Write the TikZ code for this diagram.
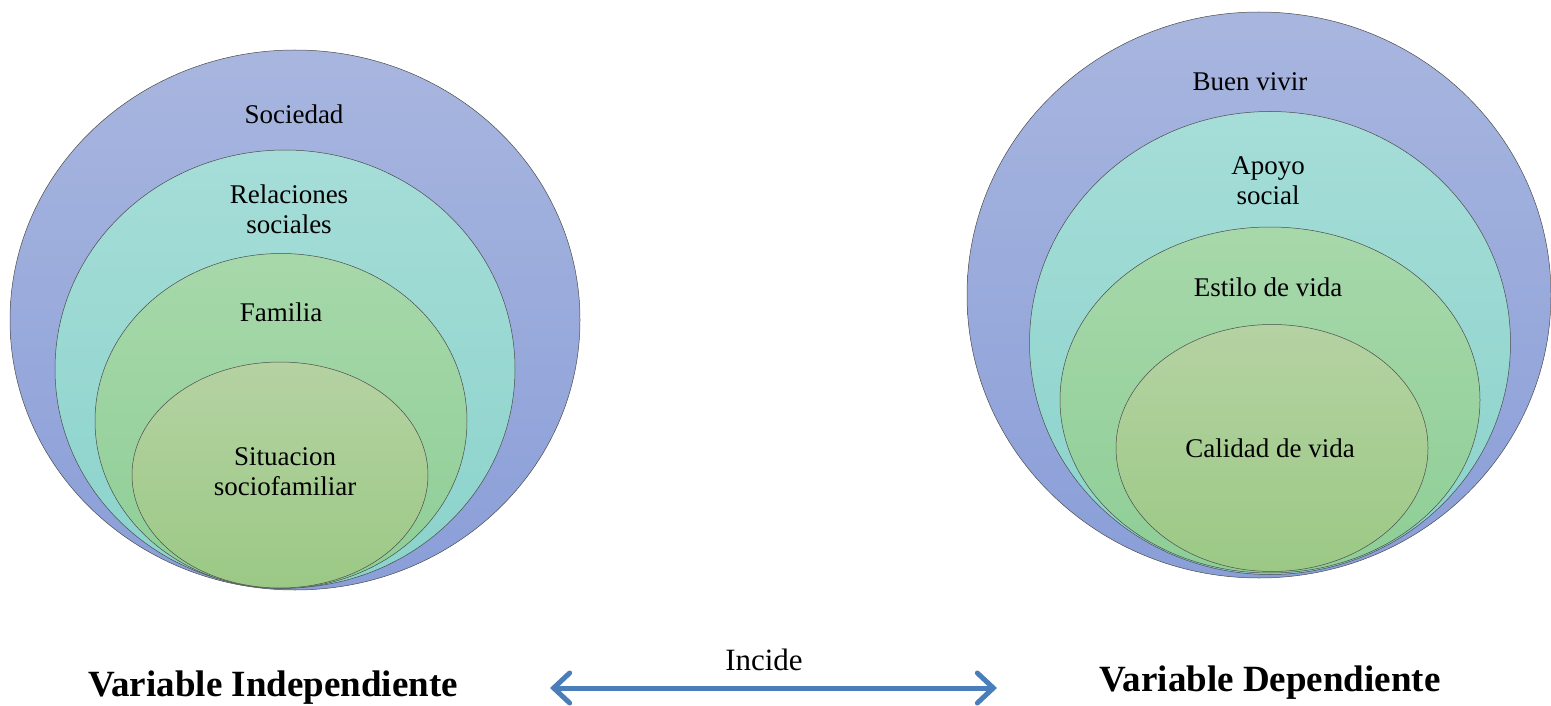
\documentclass[tikz,border=0pt]{standalone}
\usepackage{fontspec}
\setmainfont{Liberation Serif}
\usetikzlibrary{shapes.geometric,arrows.meta}
\definecolor{ringblueT}{HTML}{A8B6DF}
\definecolor{ringblueB}{HTML}{8A9ED8}
\definecolor{ringcyanT}{HTML}{A6DDD8}
\definecolor{ringcyanB}{HTML}{8AD3CB}
\definecolor{ringgreenT}{HTML}{A7D8AA}
\definecolor{ringgreenB}{HTML}{8ECE96}
\definecolor{ringlimeT}{HTML}{B5D2A2}
\definecolor{ringlimeB}{HTML}{9BC985}
\definecolor{arrowblue}{HTML}{4A7EBB}
\tikzset{
  ring/.style={ellipse,draw=black!70,line width=0.5pt,inner sep=0pt},
  blue ring/.style={ring,top color=ringblueT,bottom color=ringblueB},
  cyan ring/.style={ring,top color=ringcyanT,bottom color=ringcyanB},
  green ring/.style={ring,top color=ringgreenT,bottom color=ringgreenB},
  lime ring/.style={ring,top color=ringlimeT,bottom color=ringlimeB},
  ringtext/.style={align=center,font=\fontsize{27}{30}\selectfont,inner sep=0pt},
  vartext/.style={font=\fontsize{37}{40}\selectfont\bfseries,inner sep=0pt},
}
\begin{document}
\begin{tikzpicture}[x=1pt,y=-1pt]
  \useasboundingbox (0,0) rectangle (1551,706);

  % Variable independiente
  \node[blue ring,minimum width=570,minimum height=540] (soc) at (295,320) {};
  \node[cyan ring,minimum width=460,minimum height=438] (rel) at (285,369) {};
  \node[green ring,minimum width=372,minimum height=335] (fam) at (281,421) {};
  \node[lime ring,minimum width=296,minimum height=226] (sit) at (280,475) {};

  \node[ringtext] (socT) at (294,114) {Sociedad};
  \node[ringtext] (relT) at (289,209) {Relaciones\\sociales};
  \node[ringtext] (famT) at (281,312) {Familia};
  \node[ringtext] (sitT) at (285,472) {Situacion\\sociofamiliar};

  % Variable dependiente
  \node[blue ring,minimum width=584,minimum height=566] (buen) at (1259,295) {};
  \node[cyan ring,minimum width=481,minimum height=463] (apo) at (1270,343) {};
  \node[green ring,minimum width=420,minimum height=346] (est) at (1270,400) {};
  \node[lime ring,minimum width=312,minimum height=247] (cal) at (1272,448) {};

  \node[ringtext] (buenT) at (1250,82) {Buen vivir};
  \node[ringtext] (apoT) at (1268,181) {Apoyo\\social};
  \node[ringtext] (estT) at (1268,287) {Estilo de vida};
  \node[ringtext] (calT) at (1270,448) {Calidad de vida};

  % titulos y flecha
  \node[vartext] (indep) at (273,688) {Variable Independiente};
  \node[vartext] (dep) at (1270,683) {Variable Dependiente};
  \coordinate (arrL) at (550,688);
  \coordinate (arrR) at (997,688);
  \draw[arrowblue,line width=5pt,
    {Straight Barb[length=16pt,width=30pt,line cap=round]}-{Straight Barb[length=16pt,width=30pt,line cap=round]}]
    (arrL) -- (arrR);
  \node[font=\fontsize{31}{34}\selectfont,inner sep=0pt] (inc) at (764,660) {Incide};
\end{tikzpicture}
\end{document}
